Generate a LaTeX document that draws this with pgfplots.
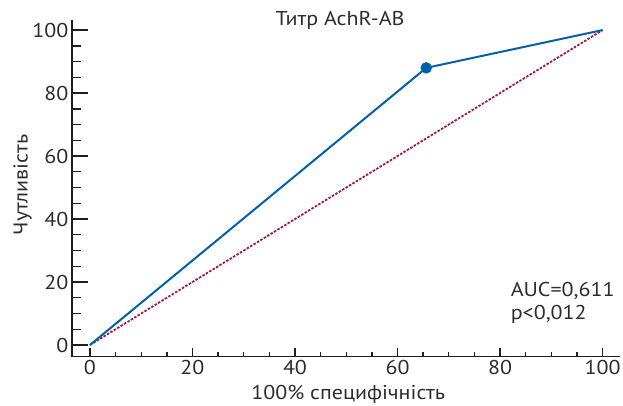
\documentclass[border=0pt]{standalone}
\usepackage{fontspec}
\setmainfont{PT Sans}[FakeStretch=1.1]
\usepackage{pgfplots}
\pgfplotsset{compat=1.18}
\definecolor{rocblue}{RGB}{0,96,170}
\definecolor{rocred}{RGB}{168,20,74}
\definecolor{txt}{RGB}{45,45,45}
\definecolor{axisc}{RGB}{30,30,30}
\newcommand{\fs}{\fontsize{20}{23}\selectfont}
\begin{document}
\begin{tikzpicture}
\useasboundingbox (-72pt,-48.5pt) rectangle (551pt,356.5pt);
\begin{axis}[
  scale only axis, width=548pt, height=336.5pt,
  xmin=-3.5, xmax=103.4, ymin=-3.65, ymax=103.2,
  axis x line=bottom, axis y line=left,
  axis line style={-, line width=1.4pt, color=axisc},
  xtick={0,20,40,60,80,100}, minor x tick num=3, ytick=\empty,
  tick align=inside, major tick length=9pt, minor tick length=5pt,
  tick style={line width=1.4pt, color=axisc},
  /pgf/number format/assume math mode=true,
  tick label style={font=\fs, text=txt},
  xlabel={100\% специфічність},
  xlabel style={font=\fs, text=txt, at={(axis description cs:0.504,-0.114)}, anchor=center},
  clip=false,
]
\addplot[rocred, line width=1.8pt, dash pattern=on 2.5pt off 1.5pt] coordinates {(0,0) (100,100)};
\addplot[rocblue, line width=2pt] coordinates {(0,0) (65.6,88) (100,100)};
\addplot[only marks, mark=*, mark size=5.5pt, rocblue] coordinates {(65.6,88)};
\node[font=\fs, text=txt, anchor=center] at (axis cs:48.8,103.2) {Титр AchR-AB};
\node[font=\fs, text=txt, anchor=west, align=left] at (axis cs:81.4,13.3) {AUC=0,611\\p<0,012};
\end{axis}
\begin{axis}[
  scale only axis, width=548pt, height=336.5pt,
  xmin=-3.5, xmax=103.4, ymin=-3.65, ymax=103.2,
  axis x line=none, axis y line=left,
  axis line style={-, line width=1.4pt, color=axisc},
  ytick={0,20,40,60,80,100}, minor y tick num=3, xtick=\empty,
  tick align=inside, major tick length=15.6pt, minor tick length=9.3pt,
  tick style={line width=1.4pt, color=axisc},
  /pgf/number format/assume math mode=true,
  tick label style={font=\fs, text=txt},
  ylabel={Чутливість},
  ylabel style={font=\fs, text=txt, at={(axis description cs:-0.09,0.51)}, anchor=center},
]
\end{axis}
\end{tikzpicture}
\end{document}
